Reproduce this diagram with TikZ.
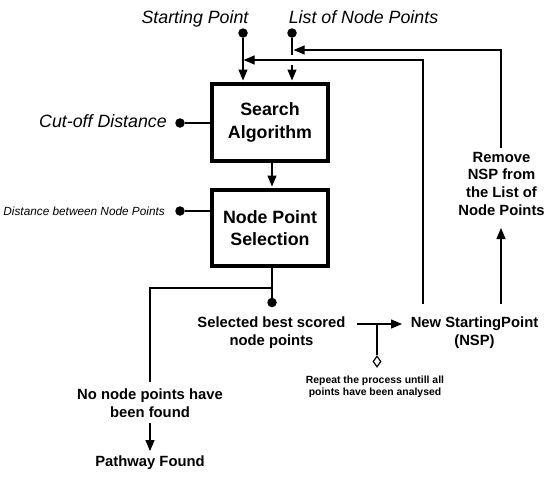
\documentclass[tikz,border=0pt]{standalone}
\usepackage{fontspec}
\setmainfont{Liberation Sans}
\usetikzlibrary{arrows.meta,shapes.geometric}
\begin{document}
\begin{tikzpicture}[x=1pt,y=-1pt,
  ln/.style={line width=1.2pt},
  arr/.style={ln,-{Triangle[length=11pt,width=9pt]}},
  box/.style={draw,line width=4pt,minimum width=116pt,minimum height=77pt,inner sep=0pt,align=center,font=\fontsize{17.8}{22.3}\selectfont\bfseries},
  lbl/.style={inner sep=0pt,align=center,font=\fontsize{14.8}{17.6}\selectfont\bfseries},
  ital/.style={inner sep=0pt,font=\fontsize{17.8}{21}\selectfont\itshape},
  smallital/.style={inner sep=0pt,font=\fontsize{11.8}{14}\selectfont\itshape},
  note/.style={inner sep=0pt,align=center,font=\fontsize{10.4}{12.4}\selectfont\bfseries},
  dot/.style={circle,fill,inner sep=0pt,minimum size=9.5pt},
  dia/.style={diamond,draw,fill=white,line width=1.2pt,inner sep=0pt,minimum width=8pt,minimum height=11pt}]
\useasboundingbox (0,0) rectangle (557,499);
% boxes
\node[box] (sa) at (270,122.5) {Search\\Algorithm};
\node[box,minimum height=76pt] (nps) at (270,228) {Node Point\\Selection};
% input labels
\node[ital,anchor=base] (spt) at (195,23) {Starting Point};
\node[ital,anchor=base] (lnt) at (363.5,23) {List of Node Points};
\node[ital,anchor=base east] (cot) at (167,127.3) {Cut-off Distance};
\node[smallital,anchor=base east] (dbt) at (165,215) {Distance between Node Points};
% dots
\node[dot] (spd) at (243,33) {};
\node[dot] (lnd) at (292,33) {};
\node[dot] (cd) at (180,123) {};
\node[dot] (dd) at (180,211) {};
\node[dot] (sd) at (272,302.5) {};
% other labels (base = last line's baseline)
\node[lbl,anchor=base] (sel) at (271.5,345) {Selected best scored\\node points};
\node[lbl,anchor=base] (nsp) at (474.5,345) {New StartingPoint\\(NSP)};
\node[lbl,anchor=base] (rem) at (501.5,215) {Remove\\NSP from\\the List of\\Node Points};
\node[lbl,anchor=base] (nf) at (150,417) {No node points have\\been found};
\node[lbl,anchor=base] (pf) at (150,466) {Pathway Found};
\node[note,anchor=base] (rp) at (375,395.7) {Repeat the process untill all\\points have been analysed};
\node[dia] (dm) at (377,361.5) {};
% coordinates
\coordinate (l1) at (292,55);
\coordinate (l2) at (292,65);
\coordinate (f1) at (423,304);
\coordinate (j1) at (243.6,60);
\coordinate (f2) at (501,304);
\coordinate (j2) at (293.6,50);
\coordinate (jn) at (272,288);
\coordinate (a1) at (357,324);
\coordinate (a2) at (402,324);
\coordinate (b1) at (377,324);
% connectors
\draw[arr,shorten >=1.5pt] (spd) -- (spd |- sa.north);
\draw[ln] (lnd) -- (l1);
\draw[arr,shorten >=1.5pt] (l2) -- (lnd |- sa.north);
\draw[ln] (cd) -- (cd -| sa.west);
\draw[ln] (dd) -- (dd -| nps.west);
\draw[arr,shorten >=1.5pt] (sd |- sa.south) -- (sd |- nps.north);
\draw[ln] (sd |- nps.south) -- (sd);
\draw[ln] (jn) -| ([yshift=6pt]nf.north);
\draw[arr] ([yshift=-6pt]nf.south) -- ([yshift=4pt]pf.north);
\draw[arr] (a1) -- (a2);
\draw[ln] (b1) -- (dm.north);
\draw[arr] (f1) |- (j1);
\draw[arr] (f2) -- (f2 |- 0,228);
\draw[arr] ([yshift=4pt]rem.north -| f2) |- (j2);
\end{tikzpicture}
\end{document}
